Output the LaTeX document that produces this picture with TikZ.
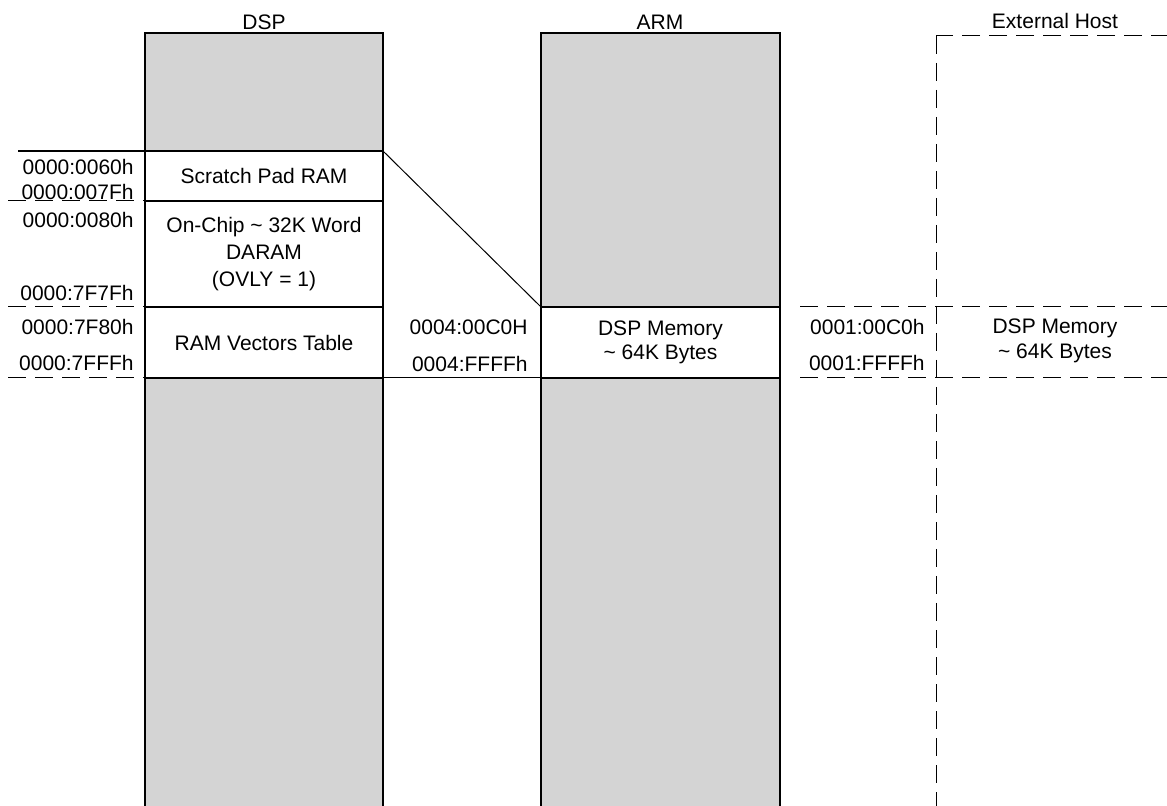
\documentclass[tikz,border=0pt]{standalone}
\usepackage{fontspec}
\setmainfont{Liberation Sans}
\definecolor{memgray}{RGB}{212,212,212}

\begin{document}
\begin{tikzpicture}[x=0.5pt,y=-0.5pt,
    every node/.style={font=\fontsize{10.5}{12.3}\selectfont},
    col/.style={draw,line width=1.3pt,fill=memgray},
    region/.style={draw,line width=1.3pt,fill=white,inner sep=0pt,outer sep=0pt,minimum width=119pt,align=center},
    addr/.style={anchor=east,inner sep=0pt},
    sep/.style={line width=0.5pt,dash pattern=on 9pt off 4.5pt},
    link/.style={line width=0.5pt}]
  \clip (0,0) rectangle (1167,806);
  % memory columns
  \draw[col] (145,33) rectangle (383,830);
  \draw[col] (541,33) rectangle (780,830);
  \draw[sep] (936,36) rectangle (1190,830);
  \node[inner sep=0pt] (dsp) at (264,22) {DSP};
  \node[inner sep=0pt] (arm) at (660,22) {ARM};
  \node[inner sep=0pt] (host) at (1055,21) {External Host};
  % DSP regions
  \node[region,minimum height=25pt] (scratch) at (264,176) {Scratch Pad RAM};
  \node[region,minimum height=53pt,font=\fontsize{10.5}{13.3}\selectfont] (daram) at (264,254)
    {On-Chip \textasciitilde{} 32K Word\\DARAM\\(OVLY = 1)};
  \node[region,minimum height=35.5pt] (vectors) at (264,342.5) {RAM Vectors Table};
  % ARM and host windows
  \node[region,minimum width=119.5pt,minimum height=35.5pt] (armmem) at (660.5,342.5)
    {DSP Memory\\\textasciitilde{} 64K Bytes};
  \node[inner sep=0pt,align=center] (hostmem) at (1055,341)
    {DSP Memory\\\textasciitilde{} 64K Bytes};
  \coordinate (hosttop) at (800,307);
  \coordinate (hostbot) at (800,378);
  % boundaries
  \draw[line width=1.3pt] (18,151) -- (scratch.north west);
  \draw[sep] (8,201) -- (daram.north west);
  \draw[sep] (8,307) -- (vectors.north west);
  \draw[sep] (8,378) -- (vectors.south west);
  \draw[sep] (hosttop) -- ++(380,0);
  \draw[sep] (hostbot) -- ++(380,0);
  \draw[link] (scratch.north east) -- (armmem.north west);
  \draw[link] (vectors.south east) -- (armmem.south west);
  % addresses
  \node[addr] (a0060) at (134,167) {0000:0060h};
  \node[addr] (a007f) at (134,192) {0000:007Fh};
  \node[addr] (a0080) at (134,220) {0000:0080h};
  \node[addr] (a7f7f) at (134,293) {0000:7F7Fh};
  \node[addr] (a7f80) at (134,327) {0000:7F80h};
  \node[addr] (a7fff) at (134,363) {0000:7FFFh};
  \node[addr] (b00c0) at (528,327) {0004:00C0H};
  \node[addr] (bffff) at (528,364) {0004:FFFFh};
  \node[addr] (c00c0) at (925,327) {0001:00C0h};
  \node[addr] (cffff) at (925,363) {0001:FFFFh};
\end{tikzpicture}
\end{document}
